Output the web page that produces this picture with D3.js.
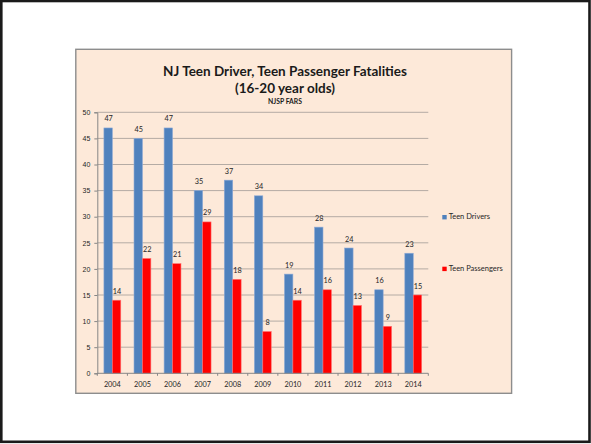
<!DOCTYPE html>
<html>
<head>
<meta charset="utf-8">
<script src="https://cdn.jsdelivr.net/npm/d3@7"></script>
<style>
  body { margin: 0; background: #fff; }
  svg { display: block; font-family: Lato, "Open Sans", sans-serif; }
</style>
</head>
<body>
<svg id="chart" width="591" height="444"></svg>
<script>
// data
const years = ["2004", "2005", "2006", "2007", "2008", "2009", "2010", "2011", "2012", "2013", "2014"];
const teenDrivers = [47, 45, 47, 35, 37, 34, 19, 28, 24, 16, 23];
const teenPassengers = [14, 22, 21, 29, 18, 8, 14, 16, 13, 9, 15];
const seriesNames = ["Teen Drivers", "Teen Passengers"];
const yTicks = [0, 5, 10, 15, 20, 25, 30, 35, 40, 45, 50];

const colors = { "Teen Drivers": "#4f81bd", "Teen Passengers": "#ff0000" };
const edges = { "Teen Drivers": "#8eaad6", "Teen Passengers": "#ff7070" };

const svg = d3.select("#chart");

// outer slide frame
svg.append("rect")
  .attr("x", 1.3).attr("y", 1).attr("width", 588.2).attr("height", 440.8)
  .attr("fill", "#fff").attr("stroke", "#1a1a1a").attr("stroke-width", 2.6);

// chart area
svg.append("rect")
  .attr("x", 75.8).attr("y", 49.3).attr("width", 435.8).attr("height", 344)
  .attr("fill", "#fde9d9").attr("stroke", "#8d8d8d").attr("stroke-width", 1.4);

const plot = { left: 97.3, right: 428.3, top: 112.3, bottom: 373.3 };

const y = d3.scaleLinear().domain([0, 50]).range([plot.bottom, plot.top]);
const x0 = d3.scaleBand().domain(years).range([plot.left, plot.right])
  .paddingInner(0.44).paddingOuter(0.22);
const x1 = d3.scaleBand().domain(seriesNames).range([0, x0.bandwidth()]);

// gridlines
svg.append("g").selectAll("line")
  .data(yTicks.filter(d => d > 0))
  .join("line")
  .attr("x1", plot.left).attr("x2", plot.right)
  .attr("y1", d => y(d)).attr("y2", d => y(d))
  .attr("stroke", "#b4aba4").attr("stroke-width", 1);

// y axis
const yAxis = svg.append("g")
  .attr("transform", `translate(${plot.left},0)`)
  .call(d3.axisLeft(y).tickValues(yTicks).tickSize(3).tickPadding(4));
yAxis.select(".domain").attr("stroke", "#868686");
yAxis.selectAll(".tick line").attr("stroke", "#868686");
yAxis.selectAll(".tick text").attr("font-size", 7).attr("fill", "#262626");

// bars
const rows = years.map((yr, i) => ({ year: yr, values: [
  { name: seriesNames[0], value: teenDrivers[i] },
  { name: seriesNames[1], value: teenPassengers[i] }
]}));

const groups = svg.append("g").selectAll("g")
  .data(rows)
  .join("g")
  .attr("transform", d => `translate(${x0(d.year)},0)`);

groups.selectAll("rect")
  .data(d => d.values)
  .join("rect")
  .attr("x", d => x1(d.name))
  .attr("y", d => y(d.value))
  .attr("width", x1.bandwidth())
  .attr("height", d => y(0) - y(d.value))
  .attr("fill", d => colors[d.name])
  .attr("stroke", d => edges[d.name])
  .attr("stroke-width", 0.6);

groups.selectAll("text")
  .data(d => d.values)
  .join("text")
  .attr("x", d => x1(d.name) + x1.bandwidth() / 2 + 0.5)
  .attr("y", d => y(d.value) - 6.5)
  .attr("text-anchor", "middle")
  .attr("font-size", 7.3)
  .attr("fill", "#262626")
  .text(d => d.value);

// x axis with ticks at category boundaries
svg.append("line")
  .attr("x1", plot.left).attr("x2", plot.right)
  .attr("y1", plot.bottom).attr("y2", plot.bottom)
  .attr("stroke", "#868686");
svg.append("g").selectAll("line")
  .data(d3.range(years.length + 1))
  .join("line")
  .attr("x1", i => plot.left + i * x0.step())
  .attr("x2", i => plot.left + i * x0.step())
  .attr("y1", plot.bottom).attr("y2", plot.bottom + 2.5)
  .attr("stroke", "#868686");
svg.append("g").selectAll("text")
  .data(years)
  .join("text")
  .attr("x", d => x0(d) + x0.bandwidth() / 2)
  .attr("y", 386.7)
  .attr("text-anchor", "middle")
  .attr("font-size", 7.3)
  .attr("fill", "#262626")
  .text(d => d);

// titles
svg.append("text")
  .attr("x", 285).attr("y", 75.7)
  .attr("text-anchor", "middle")
  .attr("font-size", 13.5).attr("font-weight", "bold").attr("fill", "#1a1a1a")
  .text("NJ Teen Driver, Teen Passenger Fatalities");
svg.append("text")
  .attr("x", 285).attr("y", 93.2)
  .attr("text-anchor", "middle")
  .attr("font-size", 13.5).attr("font-weight", "bold").attr("fill", "#1a1a1a")
  .text("(16-20 year olds)");
svg.append("text")
  .attr("x", 285).attr("y", 104.2)
  .attr("text-anchor", "middle")
  .attr("font-size", 6.8).attr("font-weight", "bold").attr("fill", "#1a1a1a")
  .text("NJSP FARS");

// legend
const legend = svg.append("g").selectAll("g")
  .data(seriesNames)
  .join("g")
  .attr("transform", (d, i) => `translate(442.3,${215 + i * 51.7})`);
legend.append("rect")
  .attr("width", 4.4).attr("height", 4.4)
  .attr("fill", d => colors[d]);
legend.append("text")
  .attr("x", 6.4).attr("y", 4.4)
  .attr("font-size", 7.5)
  .attr("fill", "#262626")
  .text(d => d);
</script>
</body>
</html>
